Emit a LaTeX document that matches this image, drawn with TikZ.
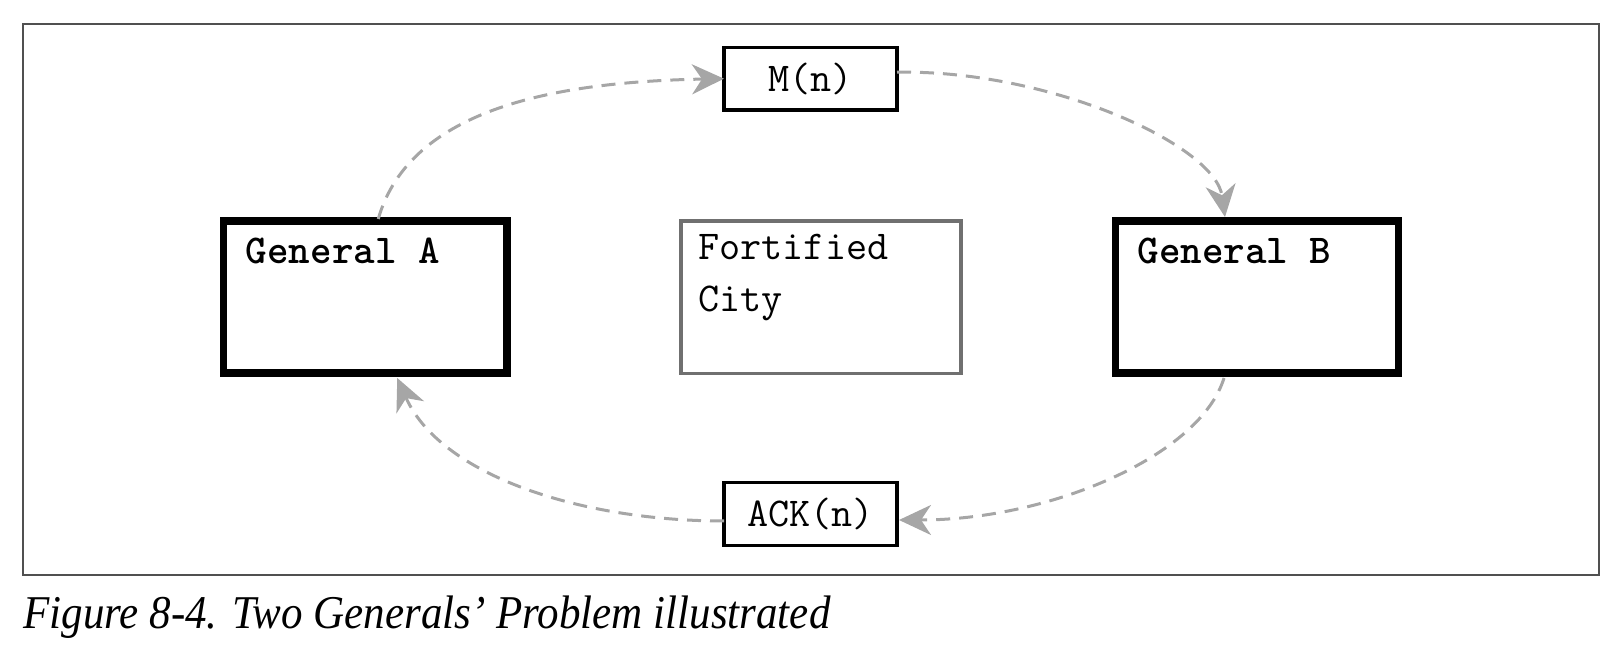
\documentclass[tikz,border=0pt]{standalone}
\usepackage{fontspec}
\newfontfamily\capfont[FakeStretch=0.915]{Liberation Serif}
\usetikzlibrary{arrows.meta,calc}
\definecolor{connc}{HTML}{A6A6A6}
\definecolor{citygray}{HTML}{707070}
\definecolor{framegray}{HTML}{505050}
\begin{document}
\begin{tikzpicture}[x=0.5pt,y=-0.5pt,
  genbox/.style={draw=black, line width=3.6pt, minimum width=141.75pt, minimum height=76pt, inner sep=0pt, outer sep=0pt},
  citybox/.style={draw=citygray, line width=1.7pt, minimum width=140pt, minimum height=76.3pt, inner sep=0pt, outer sep=0pt},
  msgbox/.style={draw=black, line width=1.7pt, minimum width=86.5pt, minimum height=31.4pt, inner sep=0pt, outer sep=0pt, font=\ttfamily\fontsize{20.5}{24}\selectfont},
  genlabel/.style={inner sep=0pt, anchor=base west, font=\ttfamily\bfseries\fontsize{20.5}{26}\selectfont},
  citylabel/.style={inner sep=0pt, anchor=north west, align=left, font=\ttfamily\fontsize{20.5}{26}\selectfont},
  conn/.style={draw=connc, line width=1.5pt, dash pattern=on 7pt off 4.5pt, -{Stealth[length=16pt,width=15pt,inset=5pt]}}
]
\useasboundingbox (0,0) rectangle (1624,662);
\node[draw=framegray, line width=0.9pt, minimum width=788pt, minimum height=275.5pt, inner sep=0pt, outer sep=0pt] (frame) at (811,299.5) {};

\node[genbox] (ga) at (365.25,297) {};
\node[genlabel] (gal) at ($(ga.north west)+(22,43)$) {General A};
\node[citybox] (fc) at (821,297.3) {};
\node[citylabel] (fcl) at ($(fc.north west)+(17,13)$) {Fortified\\City};
\node[genbox] (gb) at (1257,297) {};
\node[genlabel] (gbl) at ($(gb.north west)+(22,43)$) {General B};
\node[msgbox] (mn) at (810.5,78.7) {M(n)};
\node[msgbox] (ack) at (810.5,514) {ACK(n)};

\draw[conn] ($(ga.north)+(13,-2)$) .. controls +(32,-112) and +(-164,3) .. (mn.west);
\draw[conn] ($(mn.east)+(0,-6.5)$) .. controls +(153,-2.5) and +(-10,-72) .. ($(gb.north)+(-32,-4)$);
\draw[conn] ($(gb.south)+(-33,5)$) .. controls +(-24,78) and +(150.5,0) .. ($(ack.east)+(2,6)$);
\draw[conn] ($(ack.west)+(0,7)$) .. controls +(-144,0) and +(43,97) .. ($(ga.south)+(32,5)$);

\node[anchor=base west, inner sep=0pt, font=\capfont\itshape\fontsize{23.5}{28}\selectfont] (cap) at (23,629) {Figure 8-4. Two Generals’ Problem illustrated};
\end{tikzpicture}
\end{document}
